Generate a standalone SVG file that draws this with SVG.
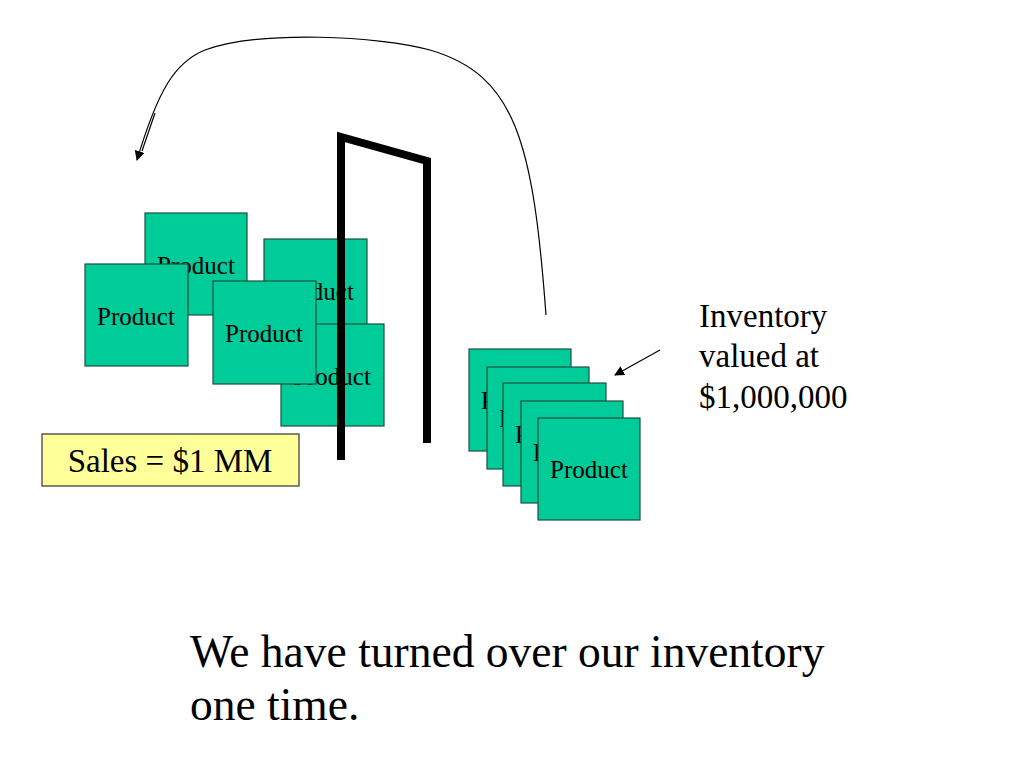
<svg xmlns="http://www.w3.org/2000/svg" width="1024" height="768" viewBox="0 0 1024 768">
<defs>
<style>
.box{fill:#00CC99;stroke:#1f4f40;stroke-width:1.2}
.pt{font-family:"Liberation Serif","Times New Roman",serif;font-size:25px;fill:#000;text-anchor:middle}
.big{font-family:"Liberation Serif","Times New Roman",serif;fill:#000}
.thin{fill:none;stroke:#000;stroke-width:1.2}
</style>
<marker id="ah" viewBox="0 0 10 10" refX="9" refY="5" markerWidth="10" markerHeight="10" markerUnits="userSpaceOnUse" orient="auto">
<path d="M0,0 L10,5 L0,10 z" fill="#000"/>
</marker>
</defs>
<rect width="1024" height="768" fill="#fff"/>
<g id="product-a"><rect class="box" x="145" y="213" width="102" height="102"/><text class="pt" x="196" y="274">Product</text></g>
<g id="product-b"><rect class="box" x="85" y="264" width="103" height="102"/><text class="pt" x="136" y="325">Product</text></g>
<g id="product-c"><rect class="box" x="264" y="239" width="103" height="102"/><text class="pt" x="315" y="300">Product</text></g>
<g id="product-d"><rect class="box" x="281" y="324" width="103" height="102"/><text class="pt" x="332" y="385">Product</text></g>
<g id="product-e"><rect class="box" x="213" y="281" width="103" height="103"/><text class="pt" x="264" y="342">Product</text></g>
<g id="door"><path d="M341,460 L341,137 L427,161 L427,443" fill="none" stroke="#000" stroke-width="8" stroke-linejoin="miter"/></g>
<g id="stack">
<g id="stack-1"><rect class="box" x="469" y="349" width="102" height="102"/><text class="pt" x="520" y="409">Product</text></g>
<g id="stack-2"><rect class="box" x="487" y="367" width="102" height="102"/><text class="pt" x="538" y="427">Product</text></g>
<g id="stack-3"><rect class="box" x="503" y="383" width="103" height="103"/><text class="pt" x="554" y="443">Product</text></g>
<g id="stack-4"><rect class="box" x="521" y="401" width="102" height="102"/><text class="pt" x="572" y="461">Product</text></g>
<g id="stack-5"><rect class="box" x="538" y="418" width="102" height="102"/><text class="pt" x="589" y="478">Product</text></g>
</g>
<g id="sales"><rect x="42" y="434" width="257" height="52" fill="#FFFF99" stroke="#333" stroke-width="1.2"/><text class="big" x="170" y="472" font-size="33" text-anchor="middle">Sales = $1 MM</text></g>
<g id="inventory-label"><text class="big" font-size="33"><tspan x="699" y="327">Inventory</tspan><tspan x="699" y="367">valued at</tspan><tspan x="699" y="408">$1,000,000</tspan></text></g>
<g id="connectors">
<path class="thin" d="M546,315 C533,140 515,75 430,50 C380,36 260,30 205,50 C175,62 158,90 137,160" marker-end="url(#ah)"/>
<line class="thin" x1="155" y1="113" x2="142" y2="151"/>
<line class="thin" x1="660" y1="350" x2="615" y2="375" marker-end="url(#ah)"/>
</g>
<g id="caption"><text class="big" font-size="45.5"><tspan x="190" y="667">We have turned over our inventory</tspan><tspan x="190" y="720">one time.</tspan></text></g>
</svg>
